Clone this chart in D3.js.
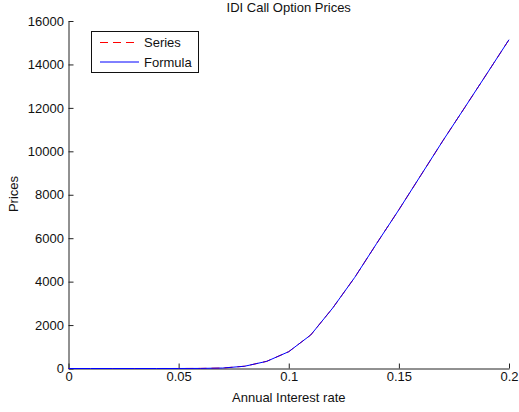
<!DOCTYPE html>
<html>
<head>
<meta charset="utf-8">
<script src="https://cdn.jsdelivr.net/npm/d3@7"></script>
<style>
  html, body { margin: 0; padding: 0; background: #fff; }
  svg { display: block; font-family: "Liberation Sans", Arial, Helvetica, sans-serif; }
</style>
</head>
<body>
<svg id="chart" width="519" height="412"></svg>
<script>
// Annual interest rates (x) and call option prices from both methods
const rates = [0, 0.01, 0.02, 0.03, 0.04, 0.05, 0.06, 0.07, 0.08, 0.09, 0.10,
               0.11, 0.12, 0.13, 0.14, 0.15, 0.16, 0.17, 0.18, 0.19, 0.20];
const seriesPrices  = [0, 0, 0, 0, 0, 0.5, 4, 22, 105, 330, 775,
                       1545, 2790, 4200, 5770, 7310, 8900, 10490, 12030, 13580, 15140];
const formulaPrices = [0, 0, 0, 0, 0, 0.5, 4, 22, 105, 330, 775,
                       1545, 2790, 4200, 5770, 7310, 8900, 10490, 12030, 13580, 15140];
const xTicks = [0, 0.05, 0.1, 0.15, 0.2];
const yTicks = [0, 2000, 4000, 6000, 8000, 10000, 12000, 14000, 16000];
const legendItems = [
  { name: "Series",  color: "#ff0000", dash: "8,5" },
  { name: "Formula", color: "#0000ff", dash: null }
];

const svg = d3.select("#chart");
const plotLeft = 68.5, plotRight = 509, plotTop = 21, plotBottom = 368.5;

const x = d3.scaleLinear().domain([0, 0.2]).range([plotLeft, plotRight]);
const y = d3.scaleLinear().domain([0, 16000]).range([plotBottom, plotTop]);

// Axes with inward ticks, MATLAB style (box off)
const xAxis = d3.axisBottom(x).tickValues(xTicks).tickSizeInner(-5).tickSizeOuter(0)
  .tickPadding(9).tickFormat(d => d === 0 ? "0" : String(+d.toFixed(2)));
const yAxis = d3.axisLeft(y).tickValues(yTicks).tickSizeInner(-5).tickSizeOuter(0)
  .tickPadding(9).tickFormat(d => String(d));

const gx = svg.append("g").attr("transform", `translate(0,${plotBottom})`).call(xAxis);
const gy = svg.append("g").attr("transform", `translate(${plotLeft},0)`).call(yAxis);
[gx, gy].forEach(g => {
  g.select(".domain").attr("stroke", "#222").attr("stroke-width", 1);
  g.selectAll(".tick line").attr("stroke", "#222");
  g.selectAll(".tick text").attr("fill", "#111").attr("font-size", 13)
    .attr("font-family", "'Liberation Sans', Arial, sans-serif");
});
gx.selectAll(".tick text").attr("dy", "0.71em").attr("y", 3);
gy.selectAll(".tick text").attr("x", -4.5);

// Lines
const line = vals => d3.line().x((d, i) => x(rates[i])).y(d => y(d))(vals);
svg.append("path").attr("d", line(seriesPrices)).attr("fill", "none")
  .attr("stroke", "#ff0000").attr("stroke-width", 1).attr("stroke-dasharray", "8,5");
svg.append("path").attr("d", line(formulaPrices)).attr("fill", "none")
  .attr("stroke", "#0000ff").attr("stroke-width", 1);

// Title and axis labels
svg.append("text").attr("x", (plotLeft + plotRight) / 2).attr("y", 11.5).attr("text-anchor", "middle")
  .attr("font-size", 13).attr("fill", "#111").text("IDI Call Option Prices");
svg.append("text").attr("x", (plotLeft + plotRight) / 2).attr("y", 401.5).attr("text-anchor", "middle")
  .attr("font-size", 13).attr("fill", "#111").text("Annual Interest rate");
svg.append("text").attr("transform", "translate(18,194) rotate(-90)").attr("text-anchor", "middle")
  .attr("font-size", 13).attr("fill", "#111").text("Prices");

// Legend
const lg = svg.append("g");
lg.append("rect").attr("x", 91.5).attr("y", 31.5).attr("width", 107).attr("height", 41)
  .attr("fill", "#fff").attr("stroke", "#111").attr("stroke-width", 1);
legendItems.forEach((it, i) => {
  const cy = 42.5 + i * 19.5;
  lg.append("line").attr("x1", 100).attr("x2", 139).attr("y1", cy).attr("y2", cy)
    .attr("stroke", it.color).attr("stroke-width", 1)
    .attr("stroke-dasharray", it.dash);
  lg.append("text").attr("x", 144).attr("y", cy).attr("dy", "0.35em")
    .attr("font-size", 13).attr("fill", "#111").text(it.name);
});
</script>
</body>
</html>
